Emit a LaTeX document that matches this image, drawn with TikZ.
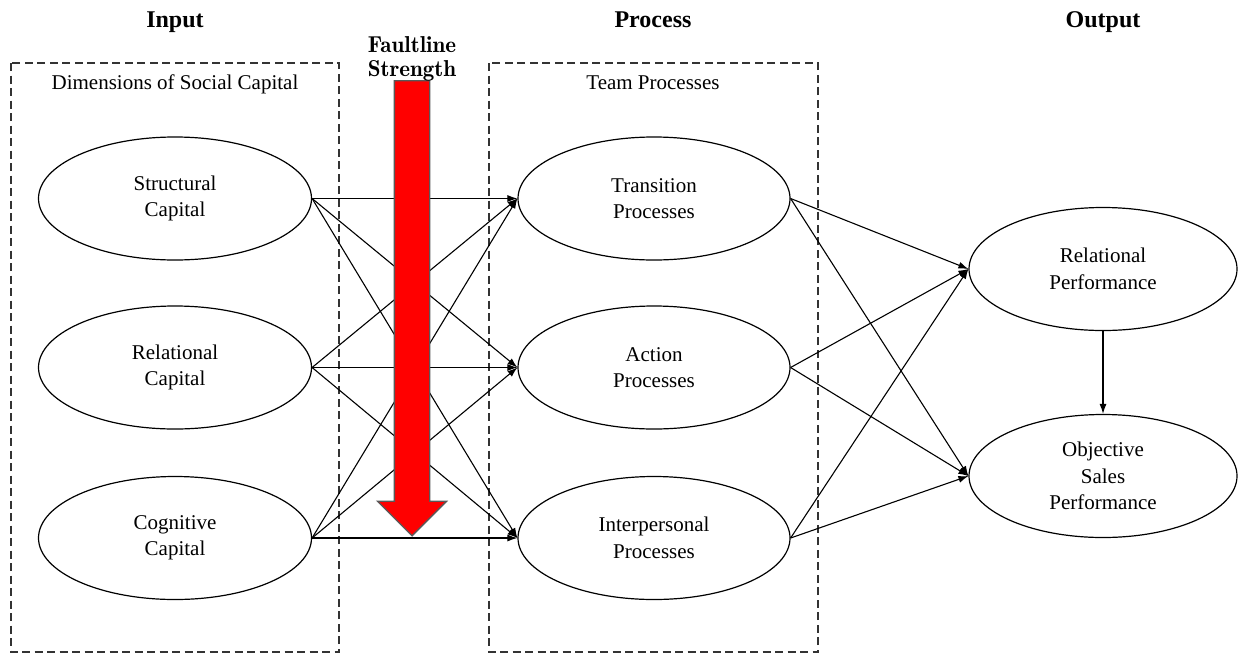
\documentclass[tikz,border=0pt]{standalone}
\usepackage{fontspec}
\setmainfont{Liberation Serif}
\usetikzlibrary{arrows.meta,shapes.geometric,shapes.arrows}

\begin{document}
\begin{tikzpicture}[x=1pt,y=-1pt,
        var/.style={shape=ellipse,draw=black,line width=1.2pt,minimum width=273pt,minimum height=123pt,inner sep=0pt,align=center,font=\fontsize{21}{26.5}\selectfont},
        box/.style={draw=black!80,line width=1.2pt,dash pattern=on 8pt off 4.5pt},
        head/.style={anchor=base,font=\fontsize{24}{28}\selectfont\bfseries},
        sub/.style={anchor=base,font=\fontsize{21}{25}\selectfont},
        every edge/.style={draw,line width=1.1pt,-{Latex[length=10pt,width=7pt]}}]
            \useasboundingbox (0,0) rectangle (1238,656);

            % headings
            \node[head] (In) at (175,27) {Input};
            \node[head] (Pr) at (653,27) {Process};
            \node[head] (Out) at (1103,27) {Output};

            % dashed groups
            \draw[box] (11,63) rectangle (339,652);
            \draw[box] (489,63) rectangle (818,652);
            \node[sub] (Dim) at (175,89) {Dimensions of Social Capital};
            \node[sub] (Team) at (653,89) {Team Processes};

            % input variables
            \node[var] (SC) at (175,198.5) {Structural\\Capital};
            \node[var] (RC) at (175,367.5) {Relational\\Capital};
            \node[var] (CC) at (175,538) {Cognitive\\Capital};

            % process variables
            \node[var,minimum width=272pt] (TP) at (654,198.5) {Transition\\Processes};
            \node[var,minimum width=272pt] (AP) at (654,367.5) {Action\\Processes};
            \node[var,minimum width=272pt] (IP) at (654,538) {Interpersonal\\Processes};

            % output variables
            \node[var,minimum width=268pt] (RP) at (1103,269) {Relational\\Performance};
            \node[var,minimum width=268pt] (OSP) at (1103,476) {Objective\\Sales\\Performance};

            \path (SC.east) edge (TP.west);
            \path (SC.east) edge (AP.west);
            \path (SC.east) edge (IP.west);
            \path (RC.east) edge (TP.west);
            \path (RC.east) edge (AP.west);
            \path (RC.east) edge (IP.west);
            \path (CC.east) edge (TP.west);
            \path (CC.east) edge (AP.west);
            \path (CC.east) edge (IP.west);

            \path (TP.east) edge (RP.west);
            \path (TP.east) edge (OSP.west);
            \path (AP.east) edge (RP.west);
            \path (AP.east) edge (OSP.west);
            \path (IP.east) edge (RP.west);
            \path (IP.east) edge (OSP.west);

            \path (RP.south) edge (OSP.north);

            % faultline moderator
            \node[single arrow,rotate=-90,fill=red,draw=black!65,line width=1.3pt,inner sep=17pt,single arrow head extend=17pt,minimum height=455pt] (FS) at (412,299.5) {};
            \node[align=center,font=\fontfamily{lmr}\fontsize{23}{23.5}\bfseries\selectfont] (FSl) at (412,59) {Faultline\\Strength};
        \end{tikzpicture}
\end{document}
